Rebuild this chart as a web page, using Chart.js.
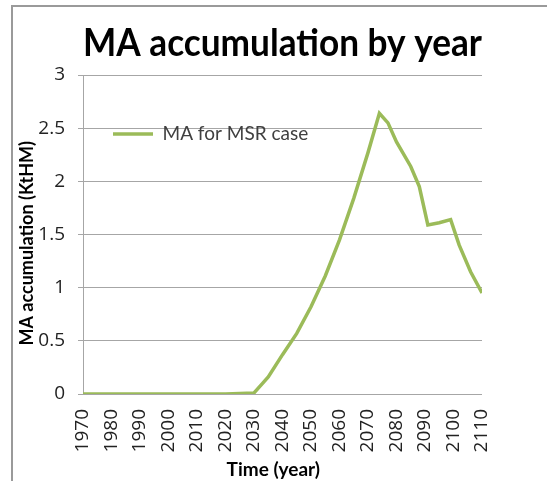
<!DOCTYPE html>
<html><head><meta charset="utf-8">
<script src="https://cdn.jsdelivr.net/npm/chart.js@4"></script>
<style>
html,body{margin:0;padding:0;background:#fff;}
#wrap{position:relative;width:547px;height:481px;overflow:hidden;}
#frame{position:absolute;left:11px;top:5px;width:600px;height:600px;border-left:2px solid #9a9a9a;border-top:2px solid #9a9a9a;}
canvas{position:absolute;left:0;top:0;}
</style></head>
<body><div id="wrap"><div id="frame"></div><canvas id="c" width="547" height="481"></canvas></div>
<script>
const chartTitle = 'MA accumulation by year';
const seriesLabel = 'MA for MSR case';
const xAxisTitle = 'Time (year)';
const yAxisTitle = 'MA accumulation (KtHM)';

const years    = [1970, 1980, 1990, 2000, 2010, 2020, 2025, 2030, 2033, 2035, 2040, 2045, 2050, 2055, 2060, 2065, 2070, 2074, 2077, 2080, 2085, 2088, 2091, 2095, 2099, 2102, 2106, 2110];
const maValues = [0,    0,    0,    0,    0,    0,    0.005,0.01, 0.10, 0.16, 0.37, 0.57, 0.82, 1.11, 1.45, 1.84, 2.27, 2.64, 2.55, 2.37, 2.14, 1.95, 1.59, 1.61, 1.64, 1.40, 1.15, 0.95];

const xMin = 1970, xMax = 2110, xStep = 10;
const yMin = 0, yMax = 3, yStep = 0.5;

const FONT = 'Lato';
const TICKFONT = 'Open Sans';
const points = years.map((y, i) => ({x: y, y: maValues[i]}));

new Chart(document.getElementById('c'), {
  type: 'line',
  data: {
    datasets: [{
      label: seriesLabel,
      data: points,
      borderColor: '#9bbb59',
      backgroundColor: '#9bbb59',
      borderWidth: 3.5,
      pointRadius: 0,
      tension: 0,
      fill: false
    }]
  },
  options: {
    responsive: false,
    animation: false,
    layout: {padding: {left: 0, right: 65, top: 0, bottom: 0}},
    plugins: {
      title: {
        display: true,
        text: chartTitle,
        fullSize: false,
        color: '#000',
        font: {family: FONT, size: 38, weight: 'bold', lineHeight: 1.2},
        padding: {top: 21.4, bottom: 8}
      },
      legend: {
        position: 'chartArea',
        align: 'start',
        title: {display: true, text: ' ', font: {size: 10, lineHeight: 1.2}, padding: {top: 0, bottom: 82.5}},
        labels: {
          usePointStyle: true,
          pointStyle: 'line',
          pointStyleWidth: 40,
          padding: 30,
          color: '#404040',
          font: {family: FONT, size: 19}
        }
      },
      tooltip: {enabled: false}
    },
    scales: {
      x: {
        type: 'linear',
        min: xMin, max: xMax,
        afterFit: (s) => { s.height = 87; },
        grid: {display: false, drawTicks: false},
        border: {display: false},
        ticks: {
          stepSize: xStep,
          autoSkip: false,
          minRotation: 90, maxRotation: 90,
          padding: 15,
          color: '#222',
          font: {family: TICKFONT, size: 19},
          callback: (v) => String(v)
        },
        title: {
          display: true, text: xAxisTitle + '    ', color: '#000',
          font: {family: FONT, size: 19, weight: 'bold', lineHeight: 1.2},
          padding: {top: 0, bottom: 0}
        }
      },
      y: {
        min: yMin, max: yMax,
        afterFit: (s) => { s.width = 83; },
        grid: {color: '#a6a6a6', lineWidth: 1, tickLength: 5, drawTicks: true},
        border: {display: true, color: '#a6a6a6', width: 1},
        ticks: {
          stepSize: yStep,
          padding: 13,
          color: '#222',
          font: {family: TICKFONT, size: 19},
          callback: (v) => String(v)
        },
        title: {
          display: true, text: yAxisTitle + '    ', color: '#000',
          font: {family: FONT, size: 18, weight: 'bold', lineHeight: 1.2},
          padding: {top: 16.2, bottom: 0}
        }
      }
    }
  }
});
</script>
</body></html>
